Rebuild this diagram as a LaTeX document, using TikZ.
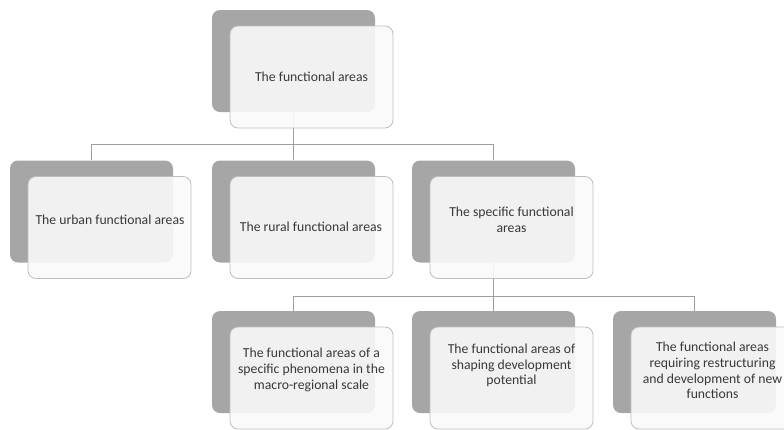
\documentclass[tikz,border=0pt]{standalone}
\usepackage{fontspec}
\setmainfont{Carlito}
\begin{document}
\begin{tikzpicture}[x=1pt,y=-1pt,
  darkbox/.style={fill=darkgray!0!black!35, draw=none, rounded corners=8pt, minimum width=163pt, minimum height=102pt, inner sep=0pt},
  lightbox/.style={draw=black!25, line width=0.8pt, fill=black!2, fill opacity=0.9, rounded corners=8pt, minimum width=163pt, minimum height=102pt, inner sep=0pt},
  label/.style={font=\fontsize{13.7}{15.8}\selectfont, align=center, text=black!78, inner sep=0pt},
  conn/.style={draw=black!38, line width=0.8pt}]
\useasboundingbox (0,0) rectangle (784,429);
\clip (0,0) rectangle (784,429);
% dark back boxes
\node[darkbox] (d0) at (293.5,61) {};
\node[darkbox] (d1) at (91.5,211.5) {};
\node[darkbox] (d2) at (293.5,211.5) {};
\node[darkbox] (d3) at (493.5,211.5) {};
\node[darkbox] (e1) at (293.5,362) {};
\node[darkbox] (e2) at (493.5,362) {};
\node[darkbox] (e3) at (694.5,362) {};
% connectors
\coordinate (j1) at (293.5,144);
\coordinate (j2) at (493.5,296);
\draw[conn] (d0.south) -- (j1);
\draw[conn] (j1) -| (d1.north);
\draw[conn] (j1) -- (d2.north);
\draw[conn] (j1) -| (d3.north);
\draw[conn] (d3.south) -- (j2);
\draw[conn] (j2) -| (e1.north);
\draw[conn] (j2) -- (e2.north);
\draw[conn] (j2) -| (e3.north);
% light front boxes
\node[lightbox] (l0) at (311.5,77) {};
\node[lightbox] (l1) at (109.5,227.5) {};
\node[lightbox] (l2) at (311.5,227.5) {};
\node[lightbox] (l3) at (511.5,227.5) {};
\node[lightbox] (m1) at (311.5,378) {};
\node[lightbox] (m2) at (511.5,378) {};
\node[lightbox] (m3) at (712.5,378) {};
% texts
\node[label] (t0) at (311.5,76.5) {The functional areas};
\node[label] (t1) at (110,219.5) {The urban functional areas};
\node[label] (t2) at (311,226.5) {The rural functional areas};
\node[label] (t3) at (511.5,219.5) {The specific functional\\areas};
\node[label] (u1) at (311.5,370) {The functional areas of a\\specific phenomena in the\\macro-regional scale};
\node[label] (u2) at (511.5,365.5) {The functional areas of\\shaping development\\potential};
\node[label] (u3) at (712.5,370.5) {The functional areas\\requiring restructuring\\and development of new\\functions};
\end{tikzpicture}
\end{document}
